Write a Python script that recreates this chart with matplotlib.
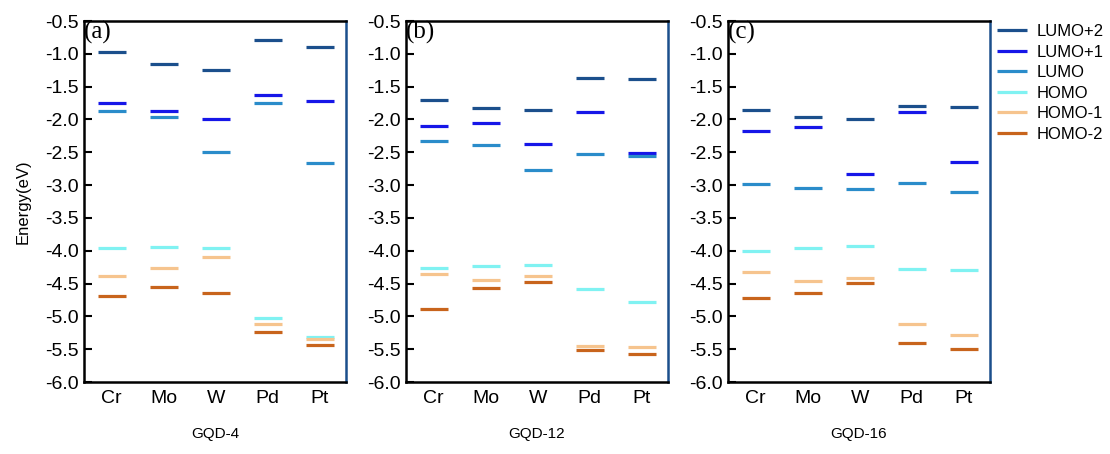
import matplotlib
matplotlib.use("Agg")
import matplotlib.pyplot as plt

plt.rcParams["font.family"] = ["Liberation Sans", "DejaVu Sans"]

metals = ["Cr", "Mo", "W", "Pd", "Pt"]
levels = ["LUMO+2", "LUMO+1", "LUMO", "HOMO", "HOMO-1", "HOMO-2"]
colors = ["#1b4f8c", "#1616e8", "#2a8cca", "#80f2f2", "#f6c48e", "#c8641c"]
panels = ["(a)", "(b)", "(c)"]
systems = ["GQD-4", "GQD-12", "GQD-16"]

# energies (eV), one list per level, ordered as metals
gqd4 = {
    "LUMO+2": [-0.97, -1.15, -1.24, -0.79, -0.90],
    "LUMO+1": [-1.75, -1.87, -1.99, -1.62, -1.72],
    "LUMO":   [-1.87, -1.96, -2.50, -1.75, -2.66],
    "HOMO":   [-3.96, -3.95, -3.96, -5.02, -5.31],
    "HOMO-1": [-4.38, -4.27, -4.09, -5.12, -5.35],
    "HOMO-2": [-4.69, -4.56, -4.65, -5.24, -5.44],
}
gqd12 = {
    "LUMO+2": [-1.71, -1.83, -1.85, -1.37, -1.39],
    "LUMO+1": [-2.10, -2.05, -2.38, -1.89, -2.51],
    "LUMO":   [-2.33, -2.39, -2.77, -2.52, -2.55],
    "HOMO":   [-4.27, -4.24, -4.21, -4.58, -4.78],
    "HOMO-1": [-4.35, -4.44, -4.38, -5.45, -5.46],
    "HOMO-2": [-4.89, -4.57, -4.47, -5.52, -5.57],
}
gqd16 = {
    "LUMO+2": [-1.86, -1.96, -1.99, -1.79, -1.81],
    "LUMO+1": [-2.18, -2.11, -2.83, -1.89, -2.65],
    "LUMO":   [-2.98, -3.05, -3.06, -2.97, -3.10],
    "HOMO":   [-4.01, -3.96, -3.93, -4.28, -4.29],
    "HOMO-1": [-4.32, -4.46, -4.42, -5.12, -5.29],
    "HOMO-2": [-4.72, -4.64, -4.49, -5.40, -5.49],
}
data = [gqd4, gqd12, gqd16]

fig = plt.figure(figsize=(11.1, 4.54), dpi=100)
lefts = [84, 406, 728]
W, H = 1110, 454

for i, (left, energies) in enumerate(zip(lefts, data)):
    ax = fig.add_axes([left / W, (H - 382) / H, 262 / W, 361 / H])
    xs = range(1, len(metals) + 1)
    for lvl, col in zip(levels, colors):
        ax.hlines(energies[lvl], [x - 0.27 for x in xs], [x + 0.27 for x in xs],
                  color=col, lw=2.3, label=lvl)
    ax.set_xlim(0.47, 5.5)
    ax.set_ylim(-6.0, -0.5)
    ax.set_yticks([-0.5 - 0.5 * k for k in range(12)])
    ax.set_yticklabels([f"{-0.5 - 0.5 * k:.1f}" for k in range(12)])
    ax.set_xticks(list(xs))
    ax.set_xticklabels(metals)
    ax.tick_params(axis="y", direction="in", length=6, width=1.5,
                   labelsize=14, pad=4)
    ax.tick_params(axis="x", length=0, labelsize=14, pad=6)
    for side in ["left", "top", "bottom"]:
        ax.spines[side].set_linewidth(1.8)
        ax.spines[side].set_color("black")
    ax.spines["right"].set_linewidth(1.8)
    ax.spines["right"].set_color("#1b4f8c")
    ax.set_xlabel(systems[i], fontsize=11, labelpad=14)
    ax.text(0.0, 1.0, panels[i], transform=ax.transAxes, ha="left",
            va="top", fontsize=18, family="Liberation Serif")
    if i == 0:
        ax.set_ylabel("Energy(eV)", fontsize=12, labelpad=10)
    if i == 2:
        ax.legend(loc="upper left", bbox_to_anchor=(1.0, 1.01), frameon=False,
                  fontsize=12, handlelength=1.8, handletextpad=0.6,
                  labelspacing=0.33, borderaxespad=0.0, borderpad=0.4)

fig.savefig("out.png", dpi=100)
